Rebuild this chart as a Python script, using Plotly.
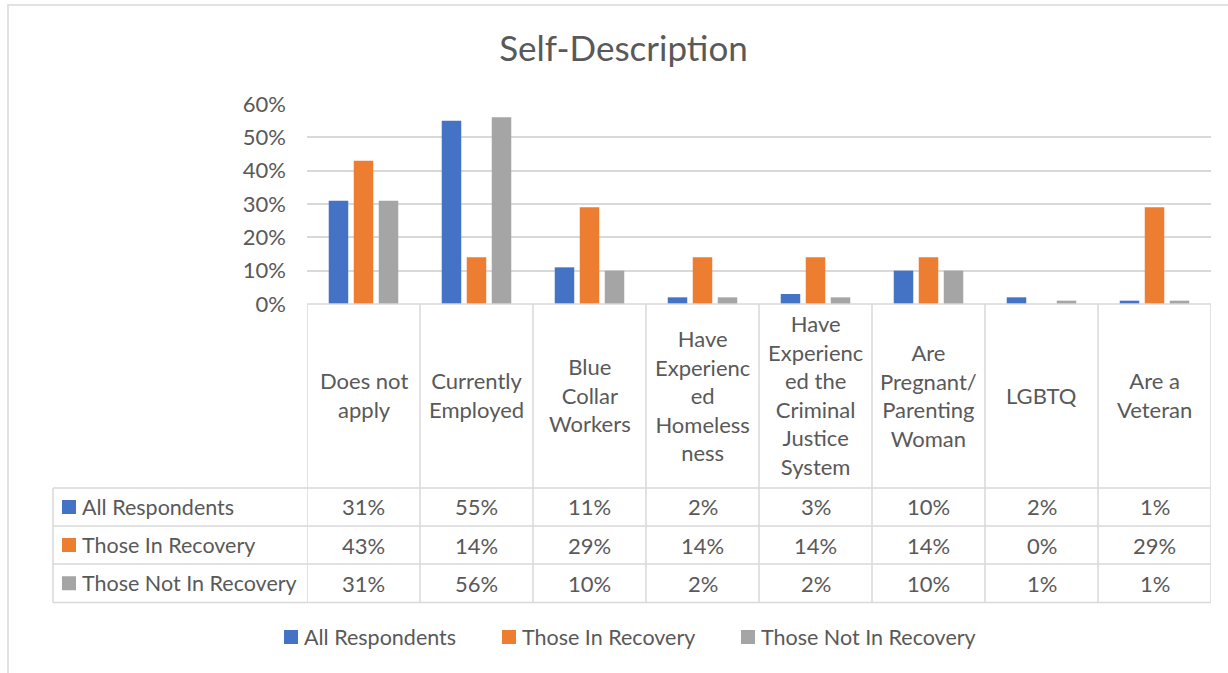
import plotly.graph_objects as go

# ---- data -------------------------------------------------------------
categories = [
    "Does not apply", "Currently Employed", "Blue Collar Workers",
    "Have Experienced Homelessness", "Have Experienced the Criminal Justice System",
    "Are Pregnant/ Parenting Woman", "LGBTQ", "Are a Veteran",
]
# wrapped category text as shown in the data-table header row
category_lines = [
    ["Does not", "apply"],
    ["Currently", "Employed"],
    ["Blue", "Collar", "Workers"],
    ["Have", "Experienc", "ed", "Homeless", "ness"],
    ["Have", "Experienc", "ed the", "Criminal", "Justice", "System"],
    ["Are", "Pregnant/", "Parenting", "Woman"],
    ["LGBTQ"],
    ["Are a", "Veteran"],
]
series_names = ["All Respondents", "Those In Recovery", "Those Not In Recovery"]
all_respondents = [31, 55, 11, 2, 3, 10, 2, 1]
in_recovery = [43, 14, 29, 14, 14, 14, 0, 29]
not_in_recovery = [31, 56, 10, 2, 2, 10, 1, 1]
y_ticks = [0, 10, 20, 30, 40, 50, 60]

series_values = [all_respondents, in_recovery, not_in_recovery]
colors = ["#4472C4", "#ED7D31", "#A5A5A5"]

# ---- geometry ---------------------------------------------------------
W, H = 1228, 673
L, R, T, B = 307, 1211, 104, 304          # plot area in pixels
FONT = "Lato"
TXT = "#595959"
GRID = "#D9D9D9"
FS = 21.5


def px_x(px):
    return (px - L) / (R - L)


def px_y(py):
    return (B - py) / (B - T)


fig = go.Figure()
for name, vals, col in zip(series_names, series_values, colors):
    fig.add_trace(go.Bar(
        x=categories, y=vals, name=name, marker_color=col,
        marker_line_width=0, showlegend=False,
    ))

shapes = []
annotations = []

# outer chart border
shapes.append(dict(type="rect", xref="paper", yref="paper",
                   x0=px_x(8), x1=px_x(W + 10), y0=px_y(5), y1=px_y(H + 10),
                   line=dict(color=GRID, width=1.5), layer="below"))

# ---- data table -------------------------------------------------------
row_edges = [304, 488, 526, 564, 602.5]
n = len(categories)
line_style = dict(color=GRID, width=1.5)
# vertical column rules
for i in range(n + 1):
    shapes.append(dict(type="line", xref="x", yref="paper",
                       x0=i - 0.5, x1=i - 0.5,
                       y0=px_y(row_edges[0]), y1=px_y(row_edges[-1]),
                       line=line_style))
shapes.append(dict(type="line", xref="paper", yref="paper",
                   x0=px_x(53), x1=px_x(53),
                   y0=px_y(row_edges[1]), y1=px_y(row_edges[-1]),
                   line=line_style))
# horizontal rules
shapes.append(dict(type="line", xref="paper", yref="paper",
                   x0=0, x1=1, y0=0, y1=0, line=line_style))
for ry in row_edges[1:]:
    shapes.append(dict(type="line", xref="paper", yref="paper",
                       x0=px_x(53), x1=1, y0=px_y(ry), y1=px_y(ry),
                       line=line_style))

# header row: category names
for i, lines in enumerate(category_lines):
    annotations.append(dict(
        xref="x", yref="paper", x=i, y=px_y((row_edges[0] + row_edges[1]) / 2 - 1),
        text="<br>".join(lines), showarrow=False, xanchor="center", yanchor="middle",
        align="center", font=dict(family=FONT, size=22, color=TXT)))

# series rows
for r, (name, vals, col) in enumerate(zip(series_names, series_values, colors)):
    yc = (row_edges[r + 1] + row_edges[r + 2]) / 2
    shapes.append(dict(type="rect", xref="paper", yref="paper",
                       x0=px_x(62), x1=px_x(76), y0=px_y(yc - 7), y1=px_y(yc + 7),
                       fillcolor=col, line=dict(width=0)))
    annotations.append(dict(
        xref="paper", yref="paper", x=px_x(80), y=px_y(yc), text=name,
        showarrow=False, xanchor="left", yanchor="middle",
        font=dict(family=FONT, size=FS, color=TXT)))
    for i, v in enumerate(vals):
        annotations.append(dict(
            xref="x", yref="paper", x=i, y=px_y(yc), text=f"{v}%",
            showarrow=False, xanchor="center", yanchor="middle",
            font=dict(family=FONT, size=22, color=TXT)))

# ---- bottom legend ----------------------------------------------------
legend_x = [284, 502, 741]
legend_y = 637
for lx, name, col in zip(legend_x, series_names, colors):
    shapes.append(dict(type="rect", xref="paper", yref="paper",
                       x0=px_x(lx), x1=px_x(lx + 14),
                       y0=px_y(legend_y - 7), y1=px_y(legend_y + 7),
                       fillcolor=col, line=dict(width=0)))
    annotations.append(dict(
        xref="paper", yref="paper", x=px_x(lx + 18), y=px_y(legend_y), text=name,
        showarrow=False, xanchor="left", yanchor="middle",
        font=dict(family=FONT, size=FS, color=TXT)))

fig.update_layout(
    width=W, height=H,
    margin=dict(l=L, r=W - R, t=T, b=H - B),
    paper_bgcolor="white", plot_bgcolor="white",
    barmode="group", bargap=0.336, bargroupgap=0.22,
    title=dict(text="Self-Description", x=623.5 / W, xanchor="center",
               y=1 - 49 / H, yanchor="middle",
               font=dict(family=FONT, size=35, color=TXT)),
    xaxis=dict(showticklabels=False, showgrid=False, zeroline=False,
               showline=False, ticks="", range=[-0.5, n - 0.5]),
    yaxis=dict(range=[0, 60], tickvals=y_ticks,
               ticktext=[f"{t}%" for t in y_ticks],
               showgrid=True, gridcolor=GRID, gridwidth=1.5,
               zeroline=False, showline=False, ticks="",
               ticklabelstandoff=20,
               tickfont=dict(family=FONT, size=22, color=TXT)),
    shapes=shapes, annotations=annotations,
    font=dict(family=FONT, color=TXT),
)

fig.write_html("out.html")
